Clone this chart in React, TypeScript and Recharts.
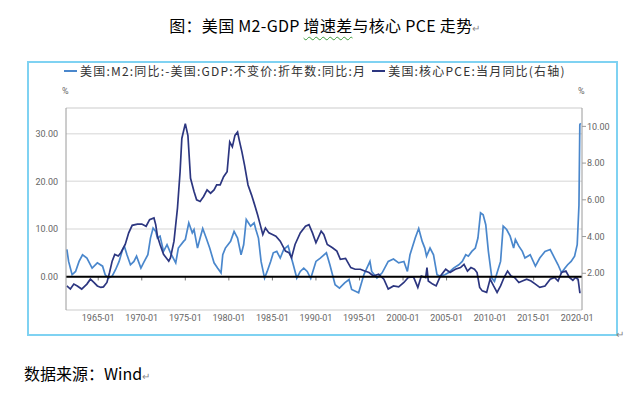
import { FC } from "react";
import { LineChart, Line, XAxis, YAxis, CartesianGrid, ReferenceLine } from "recharts";

// 美国:M2:同比 - 美国:GDP:不变价:折年数:同比 (left axis, %)
const m2Years = [
  1961.4, 1961.6, 1962.0, 1962.4, 1962.8, 1963.2, 1963.7, 1964.3, 1964.9, 1965.5, 1965.8,
  1966.2, 1966.6, 1967.0, 1967.4, 1967.8, 1968.0, 1968.3, 1968.7, 1969.1, 1969.4, 1969.9,
  1970.2, 1970.7, 1971.0, 1971.3, 1971.6, 1971.8, 1972.1, 1972.5, 1972.9, 1973.3, 1973.9,
  1974.2, 1974.8, 1975.0, 1975.4, 1975.8, 1976.0, 1976.4, 1976.7, 1977.0, 1977.4, 1977.8,
  1978.3, 1978.7, 1979.1, 1979.3, 1979.6, 1980.2, 1980.6, 1981.0, 1981.4, 1981.7, 1982.0,
  1982.5, 1982.9, 1983.1, 1983.4, 1983.7, 1984.1, 1984.4, 1984.8, 1985.1, 1985.5, 1985.9,
  1986.3, 1986.8, 1987.1, 1987.4, 1987.8, 1988.2, 1988.6, 1989.0, 1989.4, 1990.0, 1990.5,
  1991.2, 1991.6, 1992.2, 1992.7, 1993.3, 1993.8, 1994.1, 1994.9, 1995.5, 1996.2, 1996.4,
  1997.0, 1997.6, 1998.3, 1998.9, 1999.5, 2000.1, 2000.5, 2000.8, 2001.4, 2001.8, 2002.2,
  2002.5, 2002.7, 2003.1, 2003.5, 2003.9, 2004.3, 2004.8, 2005.2, 2005.8, 2006.4, 2006.8,
  2007.2, 2007.5, 2007.9, 2008.3, 2008.6, 2008.9, 2009.2, 2009.5, 2009.8, 2010.2, 2010.5,
  2010.8, 2011.2, 2011.5, 2011.9, 2012.3, 2012.7, 2012.9, 2013.3, 2013.7, 2014.0, 2014.6,
  2015.2, 2015.7, 2016.3, 2016.9, 2017.4, 2017.8, 2018.2, 2018.6, 2018.9, 2019.3, 2019.7,
  2020.0, 2020.2, 2020.3, 2020.4,
];
const m2Values = [
  5.7, 3.2, 0.4, 1.1, 3.2, 4.6, 3.9, 1.8, 2.9, 2.2, 0.4,
  -0.3, 0.1, 1.5, 3.2, 5.7, 6.4, 4.6, 2.5, 3.2, 4.3, 1.8,
  2.9, 4.6, 8.1, 10.2, 9.5, 8.1, 8.5, 5.3, 6.7, 5.0, 2.9,
  6.0, 7.4, 7.8, 11.3, 9.2, 9.9, 6.0, 8.1, 10.1, 8.1, 6.0,
  2.9, 1.8, 0.8, 4.6, 6.0, 7.4, 9.5, 8.1, 4.6, 6.7, 12.0,
  10.6, 11.3, 9.9, 8.1, 3.2, -0.3, 1.1, 3.2, 5.0, 5.3, 3.9,
  5.7, 6.5, 4.5, 2.5, -0.3, 1.1, 1.8, 1.1, -0.4, 3.2, 3.9,
  5.0, 2.5, -1.7, -2.4, -1.3, -0.6, -2.7, -3.4, 0.4, 3.2, 1.1,
  -0.3, 0.8, 3.2, 3.7, 2.9, 3.2, 1.1, 4.6, 8.1, 10.1, 7.4,
  6.0, 4.3, 6.0, 4.6, 0.4, 0.1, 0.4, 0.8, 1.8, 2.5, 3.2,
  4.6, 4.3, 5.3, 6.0, 8.1, 13.4, 13.0, 10.9, 5.3, -0.3, -1.0,
  0.8, 3.2, 10.6, 9.9, 8.5, 6.0, 7.8, 6.4, 5.3, 3.9, 4.6,
  2.2, 3.9, 5.3, 5.7, 3.9, 2.5, 0.8, 1.8, 2.5, 3.2, 4.3,
  6.7, 15.0, 31.9, 32.2,
];

// 美国:核心PCE:当月同比 (right axis, %)
const pceYears = [
  1961.4, 1961.8, 1962.2, 1962.6, 1963.1, 1963.7, 1964.1, 1964.5, 1964.9, 1965.3, 1965.6,
  1966.0, 1966.3, 1966.6, 1966.9, 1967.3, 1967.6, 1968.1, 1968.5, 1968.9, 1969.5, 1970.0,
  1970.5, 1970.9, 1971.4, 1971.6, 1971.8, 1972.1, 1972.5, 1972.8, 1973.1, 1973.3, 1973.7,
  1974.1, 1974.4, 1974.6, 1975.0, 1975.3, 1975.6, 1976.0, 1976.3, 1976.7, 1977.1, 1977.5,
  1977.9, 1978.3, 1978.6, 1979.0, 1979.4, 1979.8, 1980.1, 1980.4, 1980.7, 1981.0, 1981.2,
  1981.5, 1981.8, 1982.2, 1982.6, 1982.9, 1983.3, 1983.6, 1983.9, 1984.2, 1984.6, 1985.0,
  1985.4, 1985.9, 1986.5, 1986.9, 1987.2, 1987.6, 1988.2, 1988.8, 1989.2, 1989.6, 1990.0,
  1990.6, 1990.9, 1991.3, 1991.9, 1992.4, 1992.8, 1993.4, 1994.0, 1994.5, 1995.1, 1995.6,
  1996.1, 1996.6, 1997.2, 1997.8, 1998.3, 1998.9, 1999.5, 2000.1, 2000.6, 2001.2, 2001.7,
  2002.1, 2002.6, 2002.75, 2002.9, 2003.4, 2003.8, 2004.3, 2004.9, 2005.4, 2006.0, 2006.6,
  2007.0, 2007.4, 2007.8, 2008.2, 2008.5, 2008.8, 2009.1, 2009.6, 2010.0, 2010.4, 2010.8,
  2011.2, 2011.6, 2012.0, 2012.4, 2012.8, 2013.3, 2013.7, 2014.2, 2014.7, 2015.2, 2015.7,
  2016.3, 2016.9, 2017.4, 2017.8, 2018.2, 2018.7, 2019.1, 2019.5, 2019.8, 2020.1, 2020.3,
  2020.4,
];
const pceValues = [
  1.31, 1.14, 1.41, 1.31, 1.14, 1.41, 1.68, 1.5, 1.31, 1.23, 1.26,
  1.5, 2.04, 2.66, 3.03, 2.94, 3.12, 3.57, 4.2, 4.61, 4.68, 4.68,
  4.56, 4.92, 5.01, 4.65, 4.02, 3.57, 3.03, 2.85, 2.66, 2.85, 3.75,
  5.55, 7.53, 9.34, 10.15, 9.5, 7.17, 6.45, 6.0, 5.91, 6.18, 6.54,
  6.36, 6.54, 6.81, 6.81, 7.26, 7.53, 9.15, 8.88, 9.51, 9.69, 9.24,
  8.61, 7.89, 6.81, 6.27, 5.82, 5.19, 4.65, 4.11, 4.47, 4.2, 4.11,
  4.02, 3.75, 3.21, 3.12, 2.85, 3.57, 4.2, 4.56, 4.65, 4.2, 3.66,
  4.29, 4.11, 3.57, 3.39, 3.21, 2.76, 2.81, 2.31, 2.22, 2.22, 2.12,
  2.04, 1.85, 1.95, 1.68, 1.14, 1.31, 1.26, 1.5, 1.77, 1.8, 1.23,
  1.85, 1.77, 2.31, 1.58, 1.41, 1.31, 1.85, 2.22, 2.04, 2.22, 2.31,
  2.49, 2.12, 2.31, 2.22, 2.04, 1.23, 1.04, 0.96, 1.68, 1.31, 0.96,
  1.31, 1.77, 2.12, 1.85, 1.77, 1.5, 1.58, 1.68, 1.58, 1.41, 1.23,
  1.31, 1.68, 1.77, 1.58, 2.04, 2.12, 1.77, 1.62, 1.77, 1.68, 0.96,
  0.96,
];

const yearTicks = [1965, 1970, 1975, 1980, 1985, 1990, 1995, 2000, 2005, 2010, 2015, 2020];
const leftTicks = [0, 10, 20, 30];
const rightTicks = [2, 4, 6, 8, 10];

const m2Name = "美国:M2:同比:-美国:GDP:不变价:折年数:同比:月";
const pceName = "美国:核心PCE:当月同比(右轴)";

const lightBlue = "#4a87cc";
const navy = "#2c3680";

const tickFont = { fontFamily: "Roboto", fontSize: 9, fill: "#666" };

const App: FC = () => {
  const m2Data = m2Years.map((year, i) => ({ year, value: m2Values[i] }));
  const pceData = pceYears.map((year, i) => ({ year, value: pceValues[i] }));

  return (
    <div style={{ position: "absolute", left: 0, top: 0, width: 631, height: 394, background: "#fff", fontFamily: "'Noto Sans CJK SC', sans-serif" }}>
      <div style={{ position: "absolute", left: 0, top: 16, width: 650, textAlign: "center", fontSize: 16, lineHeight: "18px", color: "#000", letterSpacing: 0.3 }}>
        图：美国 M2-GDP <span style={{ textDecoration: "underline wavy #3a9a3a", textUnderlineOffset: 4, textDecorationThickness: 1 }}>增速差</span>与核心 PCE 走势
        <span style={{ fontSize: 10, color: "#888" }}>↵</span>
      </div>

      <div style={{ position: "absolute", left: 27, top: 61, width: 587, height: 271, border: "2px solid #7fd2f2" }} />

      <LineChart
        width={631}
        height={394}
        margin={{ top: 108, right: 9, bottom: 64, left: 26 }}
        style={{ position: "absolute", left: 0, top: 0 }}
      >
        <CartesianGrid yAxisId="left" vertical={false} stroke="#e3e3e3" strokeWidth={1.5} />
        <XAxis
          dataKey="year"
          type="number"
          domain={[1961.3, 2020.55]}
          allowDataOverflow
          ticks={yearTicks}
          tickFormatter={(v: number) => `${v}-01`}
          tick={tickFont}
          tickLine={false}
          tickSize={4}
          tickMargin={1}
          axisLine={{ stroke: "#e3e3e3", strokeWidth: 1.5 }}
          height={20}
        />
        <YAxis
          yAxisId="left"
          domain={[-7, 35.4]}
          allowDataOverflow
          ticks={leftTicks}
          tickFormatter={(v: number) => v.toFixed(2)}
          tick={tickFont}
          tickLine={false}
          axisLine={{ stroke: "#9a9a9a" }}
          width={40}
        />
        <YAxis
          yAxisId="right"
          orientation="right"
          domain={[0, 11]}
          allowDataOverflow
          ticks={rightTicks}
          tickFormatter={(v: number) => v.toFixed(2)}
          tick={tickFont}
          tickLine={{ stroke: "#9a9a9a" }}
          tickSize={4}
          tickMargin={1}
          axisLine={{ stroke: "#9a9a9a" }}
          width={40}
        />
        <ReferenceLine yAxisId="left" y={35.4} stroke="#e3e3e3" strokeWidth={1.5} />
        {yearTicks.map((t) => (
          <ReferenceLine
            key={t}
            yAxisId="left"
            segment={[{ x: t, y: 0 }, { x: t, y: -0.8 }]}
            stroke="#777"
          />
        ))}
        <Line
          yAxisId="left"
          data={m2Data}
          dataKey="value"
          name={m2Name}
          stroke={lightBlue}
          strokeWidth={1.7}
          dot={false}
          type="linear"
          isAnimationActive={false}
        />
        <Line
          yAxisId="right"
          data={pceData}
          dataKey="value"
          name={pceName}
          stroke={navy}
          strokeWidth={1.7}
          dot={false}
          type="linear"
          isAnimationActive={false}
        />
        <ReferenceLine yAxisId="left" y={0} stroke="#000" strokeWidth={2} />
      </LineChart>

      <div style={{ position: "absolute", left: 64, top: 63, fontSize: 12, lineHeight: "16px", color: "#333", letterSpacing: 1.2, whiteSpace: "nowrap", display: "flex", alignItems: "center" }}>
        <span style={{ display: "inline-block", width: 13, height: 2, background: lightBlue, marginRight: 3 }} />
        <span>{m2Name}</span>
        <span style={{ display: "inline-block", width: 13, height: 2, background: navy, marginLeft: 6, marginRight: 3 }} />
        <span>{pceName}</span>
      </div>

      <div style={{ position: "absolute", left: 62, top: 86, fontFamily: "Roboto", fontSize: 9, color: "#666" }}>%</div>
      <div style={{ position: "absolute", left: 578, top: 86, fontFamily: "Roboto", fontSize: 9, color: "#666" }}>%</div>
      <div style={{ position: "absolute", left: 616, top: 326, fontSize: 10, color: "#888" }}>↵</div>

      <div style={{ position: "absolute", left: 24, top: 364, fontSize: 16, lineHeight: "18px", color: "#000" }}>
        数据来源：Wind<span style={{ fontSize: 10, color: "#888" }}>↵</span>
      </div>
    </div>
  );
};

export default App;
